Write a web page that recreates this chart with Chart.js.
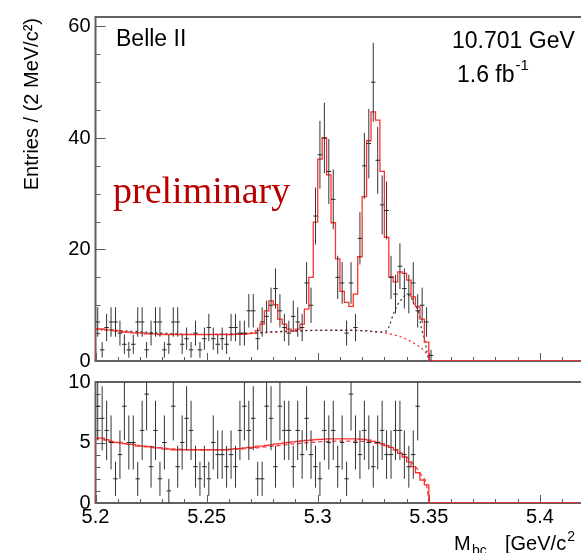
<!DOCTYPE html>
<html lang="fr">
<head>
<meta charset="utf-8">
<title>Mbc - Belle II</title>
<script src="https://cdn.jsdelivr.net/npm/chart.js@4"></script>
<style>
html, body { margin: 0; padding: 0; background: #fff; overflow: hidden; width: 581px; height: 553px; }
#haut { position: absolute; left: 0; top: 0; }
#bas { position: absolute; left: 0; top: 365px; }
</style>
</head>
<body>
<canvas id="haut" width="640" height="380"></canvas>
<canvas id="bas" width="640" height="188"></canvas>
<script>
// binning : 2 MeV a partir de 5.2
const debutBin = 5.2;
const largeurBin = 0.002;
const xMin = 5.2, xMax = 5.44;
const xTicks = [5.2, 5.25, 5.3, 5.35, 5.4];
const yTicksHaut = [0, 20, 40, 60];
const yTicksBas = [0, 5, 10];

// panneau du haut : donnees et ajustement total
const comptesHaut = [7, 2, 6, 7, 7, 5, 3, 2, 3, 7,
                     7, 2, 5, 7, 7, 2, 3, 7, 7, 3,
                     4, 2, 5, 2, 4, 6, 4, 3, 4, 3,
                     6, 6, 5, 5, 9, 9, 4, 7, 8, 10,
                     13, 9, 6, 5, 8, 7, 6, 14, 10, 26,
                     37, 40, 34, 29, 15, 14, 5, 14, 6, 22,
                     35, 39, 50, 36, 28, 27, 15, 12, 17, 13,
                     12, 14, 9, 10, 7, 1];
const ajustHaut = [5.74, 5.74, 5.57, 5.57, 5.4, 5.4, 5.2, 5.2, 5.04, 5.04,
                   5.04, 4.86, 4.86, 4.86, 4.75, 4.75, 4.75, 4.75, 4.75, 4.75,
                   4.75, 4.75, 4.75, 4.75, 4.75, 4.75, 4.75, 4.75, 4.75, 4.75,
                   4.75, 4.8, 4.8, 4.8, 4.9, 5.0, 5.45, 6.6, 9.0, 10.8,
                   10.1, 7.5, 6.6, 5.7, 5.4, 5.7, 6.6, 9.3, 15, 24.9,
                   36.2, 40, 33.4, 24.8, 18.3, 12.5, 10.5, 9.8, 12, 18.7,
                   29.5, 39.5, 44.7, 43.2, 34, 22.2, 15.1, 14.2, 16, 15.7,
                   14.5, 11.5, 9.8, 7.5, 3.4];
// fond combinatoire (pointille rouge)
const fondRougeX = [5.200, 5.210, 5.220, 5.230, 5.240, 5.250, 5.260, 5.270, 5.280, 5.290,
                    5.300, 5.310, 5.320, 5.330, 5.336, 5.340, 5.344, 5.347, 5.349, 5.350, 5.351];
const fondRougeY = [5.70, 5.30, 5.00, 4.85, 4.75, 4.75, 4.80, 4.95, 5.15, 5.35,
                    5.50, 5.55, 5.45, 5.05, 4.50, 3.90, 3.00, 2.20, 1.30, 0.60, 0];
// fond total avec composante piquante (pointille noir)
const fondNoirX = [5.200, 5.250, 5.300, 5.320, 5.328, 5.331, 5.3325, 5.334, 5.336, 5.338,
                   5.340, 5.342, 5.3435, 5.3455, 5.3466, 5.348, 5.3496, 5.350];
const fondNoirY = [5.70, 4.75, 5.50, 5.45, 5.20, 5.40, 6.60, 8.40, 10.1, 11.2,
                   11.9, 11.4, 10.1, 8.70, 6.00, 4.00, 0.80, 0];

// panneau du bas
const comptesBas = [8, 7, 6, 5, 2, 4, 8, 5, 5, 2,
                    6, 9, 3, 6, 2, 5, 1, 8, 3, 5,
                    7, 6, 3, 2, 3, 2, 5, 4, 4, 3,
                    4, 3, 6, 8, 6, 7, 2, 2, 8, 7,
                    3, 8, 6, 6, 3, 6, 4, 7, 4, 3,
                    2, 6, 5, 6, 3, 5, 2, 9, 5, 4,
                    6, 5, 3, 5, 6, 4, 4, 6, 6, 4,
                    3, 4, 8, 0, 0];
const ajustBas = [5.36, 5.36, 5.23, 5.1, 5.0, 5.0, 4.9, 4.85, 4.85, 4.7,
                  4.7, 4.65, 4.65, 4.55, 4.55, 4.45, 4.45, 4.4, 4.4, 4.4,
                  4.4, 4.4, 4.4, 4.4, 4.4, 4.4, 4.4, 4.4, 4.4, 4.4,
                  4.45, 4.5, 4.5, 4.55, 4.6, 4.6, 4.7, 4.7, 4.77, 4.8,
                  4.87, 4.9, 4.97, 5.0, 5.05, 5.1, 5.13, 5.17, 5.2, 5.23,
                  5.26, 5.28, 5.3, 5.3, 5.3, 5.3, 5.3, 5.3, 5.3, 5.28,
                  5.26, 5.2, 5.1, 5.0, 4.9, 4.75, 4.6, 4.4, 4.1, 3.8,
                  3.4, 3.0, 2.5, 1.9, 1.5];
const fondBasX = [5.200, 5.210, 5.220, 5.230, 5.240, 5.250, 5.260, 5.270, 5.280, 5.290,
                  5.300, 5.310, 5.320, 5.330, 5.336, 5.340, 5.344, 5.347, 5.349, 5.350];
const fondBasY = [5.35, 5.00, 4.75, 4.55, 4.42, 4.38, 4.40, 4.52, 4.70, 4.90,
                  5.05, 5.12, 5.10, 4.75, 4.30, 3.80, 3.00, 2.20, 1.50, 0];

const police = 'Liberation Sans, Arial, Helvetica, sans-serif';

function centre(i) { return debutBin + (i + 0.5) * largeurBin; }
function bord(i) { return debutBin + i * largeurBin; }
function points(comptes) {
    return comptes.map((n, i) => ({x: centre(i), y: n})).filter(p => p.y > 0);
}
function marches(valeurs) {
    const d = [{x: debutBin, y: 0}];
    valeurs.forEach((v, i) => d.push({x: bord(i), y: v}));
    d.push({x: bord(valeurs.length), y: 0});
    d.push({x: xMax, y: 0});
    return d;
}
function courbe(xs, ys) { return xs.map((x, i) => ({x: x, y: ys[i]})); }

// barres d'erreur poissoniennes
const barresErreur = {
    id: 'barresErreur',
    afterDatasetsDraw(chart) {
        const ctx = chart.ctx, a = chart.chartArea;
        const sx = chart.scales.x, sy = chart.scales.y;
        ctx.save();
        ctx.beginPath();
        ctx.rect(a.left, a.top, a.right - a.left, a.bottom - a.top);
        ctx.clip();
        ctx.strokeStyle = '#333';
        ctx.lineWidth = 1;
        chart.data.datasets.forEach(ds => {
            if (!ds.erreurs) return;
            ds.data.forEach(p => {
                const e = Math.sqrt(p.y);
                const px = sx.getPixelForValue(p.x);
                ctx.beginPath();
                ctx.moveTo(px, sy.getPixelForValue(p.y - e));
                ctx.lineTo(px, sy.getPixelForValue(p.y + e));
                ctx.stroke();
            });
        });
        ctx.restore();
    }
};

// cadre + graduations vers l'interieur (style ROOT)
const cadre = {
    id: 'cadre',
    beforeDatasetsDraw(chart, args, opts) {
        const ctx = chart.ctx, a = chart.chartArea;
        const sx = chart.scales.x, sy = chart.scales.y;
        ctx.save();
        ctx.strokeStyle = '#5a5a5a';
        ctx.lineWidth = 1;
        // graduations y
        const nY = Math.round(sy.max / opts.pasY);
        for (let k = 0; k <= nY; k++) {
            const v = k * opts.pasY;
            if (v > sy.max) break;
            const py = Math.round(sy.getPixelForValue(v)) + 0.5;
            const l = (Math.round(v / opts.majeurY * 1000) % 1000 === 0) ? 10 : 5;
            ctx.beginPath();
            ctx.moveTo(a.left, py);
            ctx.lineTo(a.left + l, py);
            ctx.stroke();
        }
        // graduations x
        for (let k = 0; k <= 24; k++) {
            const v = xMin + k * 0.01;
            const px = Math.round(sx.getPixelForValue(v)) + 0.5;
            const l = (k % 5 === 0) ? opts.longX : opts.longX / 2;
            ctx.beginPath();
            ctx.moveTo(px, a.bottom);
            ctx.lineTo(px, a.bottom - l);
            ctx.stroke();
        }
        // cadre
        ctx.lineWidth = 2;
        ctx.strokeStyle = '#606060';
        ctx.beginPath();
        ctx.moveTo(a.right + 20, a.top);
        ctx.lineTo(a.left, a.top);
        ctx.lineTo(a.left, a.bottom);
        ctx.lineTo(a.right + 20, a.bottom);
        ctx.stroke();
        ctx.restore();
    }
};

const textesHaut = {
    id: 'textesHaut',
    afterDraw(chart) {
        const ctx = chart.ctx;
        ctx.save();
        ctx.fillStyle = '#000';
        ctx.textBaseline = 'alphabetic';
        ctx.font = '23px ' + police;
        ctx.fillText('Belle II', 116, 46);
        ctx.fillText('10.701 GeV', 452, 48);
        ctx.fillText('1.6 fb', 457, 82);
        const w = ctx.measureText('1.6 fb').width;
        ctx.font = '15px ' + police;
        ctx.fillText('-1', 457 + w + 1, 70);
        // titre axe y
        ctx.font = '20px ' + police;
        ctx.translate(38, 18);
        ctx.rotate(-Math.PI / 2);
        ctx.textAlign = 'right';
        ctx.fillText('Entries / (2 MeV/c\u00B2)', 0, 0);
        ctx.restore();
        ctx.save();
        ctx.fillStyle = '#b80000';
        ctx.font = '38px Liberation Serif, Times New Roman, serif';
        ctx.fillText('preliminary', 113, 203);
        ctx.restore();
    }
};

const texteBas = {
    id: 'texteBas',
    afterDraw(chart) {
        const ctx = chart.ctx;
        ctx.save();
        ctx.fillStyle = '#000';
        ctx.font = '20px ' + police;
        ctx.fillText('M', 454, 185);
        ctx.font = '14px ' + police;
        ctx.fillText('bc', 472, 190);
        ctx.font = '20px ' + police;
        ctx.fillText('[GeV/c', 505, 185);
        const w = ctx.measureText('[GeV/c').width;
        ctx.font = '14px ' + police;
        ctx.fillText('2', 505 + w + 1, 176);
        ctx.restore();
    }
};

function echelles(yMax, yTicks, hauteurX, etiquettesX) {
    return {
        x: {
            type: 'linear', min: xMin, max: xMax,
            grid: {display: false, drawTicks: false},
            border: {display: false},
            ticks: {
                display: etiquettesX, autoSkip: false, maxRotation: 0, padding: 2,
                color: '#000', font: {family: police, size: 20},
                callback: v => String(v)
            },
            afterBuildTicks: s => { s.ticks = xTicks.map(v => ({value: v})); },
            afterFit: s => { s.height = hauteurX; }
        },
        y: {
            type: 'linear', min: 0, max: yMax,
            grid: {display: false, drawTicks: false},
            border: {display: false},
            ticks: {color: '#000', padding: 5, font: {family: police, size: 20}},
            afterBuildTicks: s => { s.ticks = yTicks.map(v => ({value: v})); },
            afterFit: s => { s.width = 95.5; }
        }
    };
}

const optionsCommunes = {
    responsive: false,
    animation: false,
    events: [],
    plugins: {legend: {display: false}, tooltip: {enabled: false}}
};

new Chart(document.getElementById('haut').getContext('2d'), {
    type: 'line',
    data: {
        datasets: [{
            data: points(comptesHaut),
            erreurs: true,
            showLine: false,
            pointStyle: 'line',
            pointRadius: 2.22,
            pointBorderColor: '#222',
            pointBorderWidth: 1
        }, {
            data: marches(ajustHaut),
            stepped: true,
            borderColor: '#ff3030',
            borderWidth: 1.3,
            pointRadius: 0,
            fill: false
        }, {
            data: courbe(fondNoirX, fondNoirY),
            borderColor: '#333',
            borderWidth: 1.2,
            borderDash: [2, 3],
            cubicInterpolationMode: 'monotone',
            pointRadius: 0,
            fill: false
        }, {
            data: courbe(fondRougeX, fondRougeY),
            borderColor: '#ff2020',
            borderWidth: 1.2,
            borderDash: [2, 3],
            cubicInterpolationMode: 'monotone',
            pointRadius: 0,
            fill: false
        }]
    },
    options: Object.assign({}, optionsCommunes, {
        layout: {padding: {top: 10, right: 11.2, left: 0, bottom: 0}},
        scales: echelles(61.7, yTicksHaut, 19, false),
        plugins: Object.assign({}, optionsCommunes.plugins, {
            cadre: {pasY: 5, majeurY: 20, longX: 8}
        })
    }),
    plugins: [cadre, barresErreur, textesHaut]
});

new Chart(document.getElementById('bas').getContext('2d'), {
    type: 'line',
    data: {
        datasets: [{
            data: points(comptesBas),
            erreurs: true,
            showLine: false,
            pointStyle: 'line',
            pointRadius: 2.22,
            pointBorderColor: '#222',
            pointBorderWidth: 1
        }, {
            data: marches(ajustBas),
            stepped: true,
            borderColor: '#ff3030',
            borderWidth: 1.3,
            pointRadius: 0,
            fill: false
        }, {
            data: courbe(fondBasX, fondBasY),
            borderColor: '#ff3030',
            borderWidth: 1.2,
            borderDash: [4, 3],
            cubicInterpolationMode: 'monotone',
            pointRadius: 0,
            fill: false
        }]
    },
    options: Object.assign({}, optionsCommunes, {
        layout: {padding: {top: 8, right: 11.2, left: 0, bottom: 0}},
        scales: echelles(10, yTicksBas, 50, true),
        plugins: Object.assign({}, optionsCommunes.plugins, {
            cadre: {pasY: 1, majeurY: 5, longX: 8}
        })
    }),
    plugins: [cadre, barresErreur, texteBas]
});
</script>
</body>
</html>
